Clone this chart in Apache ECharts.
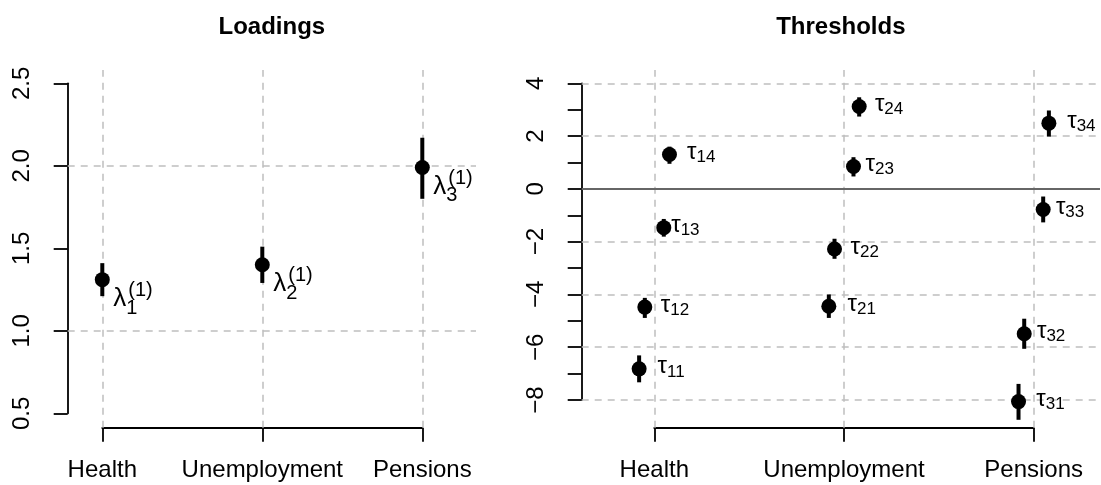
<!DOCTYPE html>
<html><head><meta charset="utf-8">
<script src="https://cdn.jsdelivr.net/npm/echarts@6.0.0/dist/echarts.min.js"></script>
<style>html,body{margin:0;padding:0;background:#fff}#c{width:1101px;height:485px}</style>
</head><body><div id="c"></div>
<script>
// ---------- data ----------
const categories = ['Health', 'Unemployment', 'Pensions'];
const loadEst = [1.31, 1.40, 1.99];
const loadLo  = [1.21, 1.29, 1.80];
const loadHi  = [1.41, 1.51, 2.17];
const loadTicks = [0.5, 1.0, 1.5, 2.0, 2.5];

// thresholds per category (4 each)
const thrEst = [[-6.82, -4.48, -1.47, 1.30], [-4.45, -2.28, 0.85, 3.12], [-8.06, -5.49, -0.78, 2.49]];
const thrLo  = [[-7.33, -4.89, -1.81, 0.95], [-4.89, -2.65, 0.47, 2.74], [-8.75, -6.06, -1.27, 1.98]];
const thrHi  = [[-6.31, -4.13, -1.14, 1.60], [-4.00, -1.89, 1.20, 3.47], [-7.39, -4.92, -0.29, 2.97]];
const thrJitter = [-0.08, -0.05, 0.05, 0.08];
const thrLabeledTicks = [-8, -6, -4, -2, 0, 2, 4];

// ---------- layout (pixels) ----------
const FONT = 'Liberation Sans, Arial, Helvetica, sans-serif';
const PL = {plotL: 67.7, plotR: 476, plotT: 70, plotB: 427.7, xa: 102.3, xb: 422.3, yTop: 83.3, yBot: 413.3,
            xMin: 1, xMax: 3, yMin: 0.5, yMax: 2.5, yInt: 0.5};
const PR = {plotL: 581.7, plotR: 1100, plotT: 70, plotB: 427.7, xa: 654.3, xb: 1033.7, yTop: 83.3, yBot: 400,
            xMin: 1, xMax: 3, yMin: -8, yMax: 4, yInt: 1};
const thrLabelDx = [[18.4, 16, 7.4, 17.5], [18.7, 16, 12, 15.7], [17.7, 12.7, 12.7, 18.3]];
const DOT = 15;

function fullRange(P) {
  const xs = (P.xb - P.xa) / (P.xMax - P.xMin);
  const ys = (P.yBot - P.yTop) / (P.yMax - P.yMin);
  return {
    x0: P.xMin - (P.xa - P.plotL) / xs, x1: P.xMax + (P.plotR - P.xb) / xs,
    y0: P.yMin - (P.plotB - P.yBot) / ys, y1: P.yMax + (P.yTop - P.plotT) / ys
  };
}
const FL = fullRange(PL), FR = fullRange(PR);

const axisLineStyle = {color: '#000', width: 1.8};
function axisGrid(P) {
  return {left: P.xa, top: P.yTop, width: P.xb - P.xa, height: P.yBot - P.yTop, outerBoundsMode: 'none', containLabel: false};
}
function dataGrid(P) {
  return {left: P.plotL, top: P.plotT, width: P.plotR - P.plotL, height: P.plotB - P.plotT, outerBoundsMode: 'none', containLabel: false};
}
function xAxisShown(P, gi) {
  return {gridIndex: gi, type: 'value', min: P.xMin, max: P.xMax, interval: 1, offset: P.plotB - P.yBot,
    axisLine: {show: true, onZero: false, lineStyle: axisLineStyle},
    axisTick: {show: true, length: 14, lineStyle: axisLineStyle},
    axisLabel: {formatter: v => categories[Math.round(v) - 1] || '', fontSize: 24, color: '#000', fontFamily: FONT, margin: 31},
    splitLine: {show: false}};
}
function yAxisShown(P, gi, fmt) {
  return {gridIndex: gi, type: 'value', min: P.yMin, max: P.yMax, interval: P.yInt, offset: P.xa - P.plotL,
    axisLine: {show: true, onZero: false, lineStyle: axisLineStyle},
    axisTick: {show: true, length: 14, lineStyle: axisLineStyle},
    axisLabel: {rotate: 90, formatter: fmt, fontSize: 24, color: '#000', fontFamily: FONT, margin: 33},
    splitLine: {show: false}};
}
function hiddenAxis(gi, min, max) {
  return {gridIndex: gi, type: 'value', min: min, max: max, show: false, splitLine: {show: false}};
}

const errRender = (params, api) => {
  const p1 = api.coord([api.value(0), api.value(1)]);
  const p2 = api.coord([api.value(0), api.value(2)]);
  return {type: 'line', shape: {x1: p1[0], y1: p1[1], x2: p2[0], y2: p2[1]}, style: {stroke: '#000', lineWidth: 4}};
};
const gridDash = {color: '#bebebe', width: 1.5, type: [7, 6]};
const blackPt = {color: '#000', opacity: 1};

// left panel data
const loadPts = categories.map((c, i) => [i + 1, loadEst[i]]);
const loadErr = categories.map((c, i) => [i + 1, loadLo[i], loadHi[i]]);

// right panel data
const thrPts = [], thrErr = [];
categories.forEach((c, i) => {
  thrEst[i].forEach((v, j) => {
    thrPts.push({value: [i + 1 + thrJitter[j], v],
      label: {distance: thrLabelDx[i][j] - DOT / 2},
      name: '' + (i + 1) + (j + 1)});
    thrErr.push([i + 1 + thrJitter[j], thrLo[i][j], thrHi[i][j]]);
  });
});

const titleStyle = {fontSize: 24, fontWeight: 'bold', fontFamily: FONT, color: '#000'};
const option = {
  animation: false,
  backgroundColor: '#fff',
  title: [
    {text: 'Loadings', left: (PL.plotL + PL.plotR) / 2, top: 15, textAlign: 'center', padding: 0, textStyle: titleStyle},
    {text: 'Thresholds', left: (PR.plotL + PR.plotR) / 2, top: 15, textAlign: 'center', padding: 0, textStyle: titleStyle}
  ],
  grid: [axisGrid(PL), dataGrid(PL), axisGrid(PR), dataGrid(PR)],
  xAxis: [xAxisShown(PL, 0), hiddenAxis(1, FL.x0, FL.x1), xAxisShown(PR, 2), hiddenAxis(3, FR.x0, FR.x1)],
  yAxis: [yAxisShown(PL, 0, v => v.toFixed(1)), hiddenAxis(1, FL.y0, FL.y1),
          yAxisShown(PR, 2, v => thrLabeledTicks.includes(v) ? (v < 0 ? '\u2212' + (-v) : '' + v) : ''),
          hiddenAxis(3, FR.y0, FR.y1)],
  series: [
    {type: 'scatter', xAxisIndex: 1, yAxisIndex: 1, data: loadPts, symbolSize: 0, silent: true, z: 1,
     markLine: {silent: true, symbol: 'none', z: 1, label: {show: false}, lineStyle: gridDash,
       data: [{xAxis: 1}, {xAxis: 2}, {xAxis: 3}, {yAxis: 1}, {yAxis: 2}]}},
    {type: 'custom', xAxisIndex: 1, yAxisIndex: 1, data: loadErr, renderItem: errRender, z: 3, silent: true},
    {type: 'scatter', xAxisIndex: 1, yAxisIndex: 1, data: loadPts, symbol: 'circle', symbolSize: DOT, z: 4,
     itemStyle: blackPt, silent: true,
     label: {show: true, position: 'right', distance: 11 - DOT / 2, offset: [0, 19], fontFamily: FONT, color: '#000',
       formatter: p => '{l|λ}{sub|' + (p.dataIndex + 1) + '}',
       rich: {
         l: {fontSize: 26, lineHeight: 39, verticalAlign: 'middle', fontFamily: FONT, color: '#000'},
         sub: {fontSize: 20, lineHeight: 10, verticalAlign: 'bottom', fontFamily: FONT, color: '#000'}
       }}},
    // superscript "(1)" of each loading label
    {type: 'scatter', xAxisIndex: 1, yAxisIndex: 1, data: loadPts, symbolSize: 0, z: 4, silent: true,
     itemStyle: blackPt,
     label: {show: true, position: 'right', distance: 26, offset: [0, 11], formatter: '(1)',
       fontSize: 20, fontFamily: FONT, color: '#000'}},
    {type: 'scatter', xAxisIndex: 3, yAxisIndex: 3, data: thrPts.map(d => d.value), symbolSize: 0, silent: true, z: 1,
     markLine: {silent: true, symbol: 'none', z: 1, label: {show: false}, lineStyle: gridDash,
       data: [{xAxis: 1}, {xAxis: 2}, {xAxis: 3}, {yAxis: 4}, {yAxis: 2}, {yAxis: -2}, {yAxis: -4}, {yAxis: -6}, {yAxis: -8},
              {yAxis: 0, lineStyle: {color: '#666', width: 2, type: 'solid'}}]}},
    {type: 'custom', xAxisIndex: 3, yAxisIndex: 3, data: thrErr, renderItem: errRender, z: 3, silent: true},
    {type: 'scatter', xAxisIndex: 3, yAxisIndex: 3, data: thrPts, symbol: 'circle', symbolSize: DOT, z: 4,
     itemStyle: blackPt, silent: true,
     label: {show: true, position: 'right', offset: [0, -2], fontFamily: FONT, color: '#000',
       formatter: p => '{t|τ}{s|' + p.name + '}',
       rich: {
         t: {fontSize: 24, lineHeight: 27, verticalAlign: 'middle', fontFamily: FONT, color: '#000'},
         s: {fontSize: 17, lineHeight: 10, verticalAlign: 'bottom', fontFamily: FONT, color: '#000'}
       }}}
  ]
};
const chart = echarts.init(document.getElementById('c'), null, {renderer: 'canvas'});
chart.setOption(option);
</script></body></html>
